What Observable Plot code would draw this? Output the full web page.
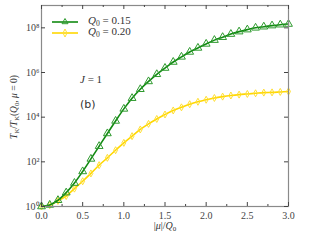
<!DOCTYPE html>
<html><head><meta charset="utf-8">
<script src="https://cdn.jsdelivr.net/npm/d3@7"></script>
<script src="https://cdn.jsdelivr.net/npm/@observablehq/plot@0.6"></script>
<style>
body{margin:0;background:#fff}
#wrap{position:relative;width:320px;height:240px;font-family:'Liberation Serif',serif;color:#333}
#wrap svg text{font-family:'Liberation Serif',serif}
.ov{position:absolute;white-space:nowrap;line-height:1}
.ov sub{font-size:70%;vertical-align:baseline;position:relative;top:0.3em}
</style>
</head><body><div id="wrap"></div>
<script>
// |mu|/Q0 sample positions
const mu = [0.0,0.1,0.2,0.3,0.4,0.5,0.6,0.7,0.8,0.9,1.0,1.1,1.2,1.3,1.4,1.5,1.6,1.7,1.8,1.9,2.0,2.1,2.2,2.3,2.4,2.5,2.6,2.7,2.8,2.9,3.0];
// log10 of T_K/T_K(Q0, mu=0)
const log015 = [0,0.07,0.28,0.62,1.05,1.57,2.13,2.7,3.27,3.83,4.37,4.85,5.25,5.6,5.92,6.2,6.47,6.7,6.92,7.1,7.28,7.45,7.58,7.72,7.83,7.92,8.0,8.05,8.1,8.14,8.17];
const log020 = [0,0.06,0.25,0.47,0.8,1.13,1.48,1.85,2.18,2.52,2.85,3.15,3.45,3.7,3.92,4.12,4.3,4.44,4.58,4.69,4.78,4.86,4.92,4.97,5.01,5.04,5.07,5.1,5.11,5.13,5.15];
const seriesNames = ["Q0 = 0.15","Q0 = 0.20"];
const yTickValues = [1,1e2,1e4,1e6,1e8];
const yTickLabels = ["10\u2070","10\u00b2","10\u2074","10\u2076","10\u2078"];
const xTickValues = [0,0.5,1,1.5,2,2.5,3];
const xTickLabels = ["0.0","0.5","1.0","1.5","2.0","2.5","3.0"];
const xMinorTicks = [0.25,0.75,1.25,1.75,2.25,2.75];

const green = "#118a11", gold = "#ffd700";
const W = 320, H = 240, mL = 41, mR = 32, mT = 5, mB = 34;
const fw = W - mL - mR, fh = H - mT - mB;

const d015 = mu.map((x,i)=>({x, y: 10**log015[i]}));
const d020 = mu.map((x,i)=>({x, y: 10**log020[i]}));

const thinDiamond = {draw(ctx, size){ const h = Math.sqrt(size/Math.PI); ctx.moveTo(0,-h*1.25); ctx.lineTo(h*0.7,0); ctx.lineTo(0,h*1.25); ctx.lineTo(-h*0.7,0); ctx.closePath(); }};

const chart = Plot.plot({
  width: W, height: H, marginLeft: mL, marginRight: mR, marginTop: mT, marginBottom: mB,
  style: {fontFamily: "'Liberation Serif', serif", fontSize: "10px", color: "#444", background: "#fff"},
  x: {domain: [0,3], label: null},
  y: {type: "log", domain: [1,1e9], label: null},
  marks: [
    Plot.line(d020, {x:"x", y:"y", stroke: gold, strokeWidth: 1.6, curve: "catmull-rom"}),
    Plot.dot(d020, {x:"x", y:"y", symbol: thinDiamond, r: 2.8, stroke: "#ffdf33", strokeWidth: 1, fill: "none"}),
    Plot.line(d015, {x:"x", y:"y", stroke: green, strokeWidth: 1.6, curve: "catmull-rom"}),
    Plot.dot(d015, {x:"x", y:"y", symbol: "triangle", r: 2.9, stroke: "#2e9a2e", strokeWidth: 1, fill: "none"}),
    Plot.frame({stroke: "#8a8a8a", strokeWidth: 1.2}),
    Plot.tickY(yTickValues, {y: d=>d, stroke: "#444", insetRight: fw-4}),
    Plot.tickY(yTickValues, {y: d=>d, stroke: "#444", insetLeft: fw-4}),
    Plot.tickX(xTickValues, {x: d=>d, stroke: "#444", insetTop: fh-4}),
    Plot.tickX(xTickValues, {x: d=>d, stroke: "#444", insetBottom: fh-4}),
    Plot.tickX(xMinorTicks, {x: d=>d, stroke: "#444", insetTop: fh-2}),
    Plot.tickX(xMinorTicks, {x: d=>d, stroke: "#444", insetBottom: fh-2}),
    Plot.axisY({ticks: yTickValues, tickFormat: d => yTickLabels[yTickValues.indexOf(d)], tickSize: 0, tickPadding: 2, label: null, fontSize: 10}),
    Plot.axisX({ticks: xTickValues, tickFormat: d => xTickLabels[xTickValues.indexOf(d)], tickSize: 0, tickPadding: 5, label: null, fontSize: 10})
  ]
});
const wrap = document.getElementById("wrap");
chart.style.position = "absolute"; chart.style.left = "0"; chart.style.top = "0";
wrap.appendChild(chart);

function ov(html, css){ const d = document.createElement("div"); d.className = "ov"; d.innerHTML = html; Object.assign(d.style, css); wrap.appendChild(d); return d; }

// legend
const lg = document.createElementNS("http://www.w3.org/2000/svg","svg");
lg.setAttribute("width","40"); lg.setAttribute("height","30");
lg.style.position = "absolute"; lg.style.left = "48px"; lg.style.top = "14px";
lg.innerHTML = `<line x1="4" y1="8" x2="30" y2="8" stroke="${green}" stroke-width="1.6"/>
<path d="M17,4.5 L20,9.7 L14,9.7 Z" fill="none" stroke="#2e9a2e" stroke-width="1"/>
<line x1="4" y1="19" x2="30" y2="19" stroke="${gold}" stroke-width="1.6"/>
<path d="M17,15 L19,19 L17,23 L15,19 Z" fill="none" stroke="#ffdf33" stroke-width="1"/>`;
wrap.appendChild(lg);
ov(`<i>Q</i><sub>0</sub> = 0.15`, {left:"88px", top:"15px", fontSize:"11px"});
ov(`<i>Q</i><sub>0</sub> = 0.20`, {left:"88px", top:"26px", fontSize:"11px"});
ov(`<i>J</i> = 1`, {left:"80px", top:"74px", fontSize:"11px"});
ov(`(b)`, {left:"80px", top:"99px", fontSize:"11px", fontFamily:"'DejaVu Sans', sans-serif"});
ov(`|<i>μ</i>|/<i>Q</i><sub>0</sub>`, {left:"165px", top:"221px", fontSize:"10px", transform:"translateX(-50%)"});
ov(`<i>T</i><sub>K</sub>/<i>T</i><sub>K</sub>(<i>Q</i><sub>0</sub>, <i>μ</i> = 0)`, {left:"15px", top:"107px", fontSize:"9.5px", transform:"translate(-50%,-50%) rotate(-90deg)"});
</script></body></html>
